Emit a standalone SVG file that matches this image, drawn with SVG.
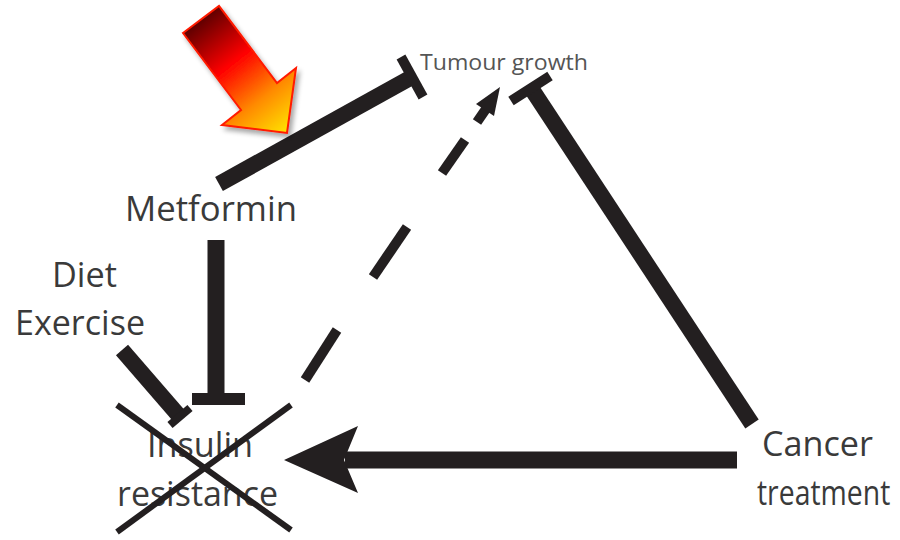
<svg xmlns="http://www.w3.org/2000/svg" width="900" height="540" viewBox="0 0 900 540">
  <defs>
    <linearGradient id="arrowGrad" gradientUnits="userSpaceOnUse" x1="200" y1="18" x2="290" y2="132">
      <stop offset="0" stop-color="#5a0000"/>
      <stop offset="0.38" stop-color="#ff0000"/>
      <stop offset="0.7" stop-color="#ff8a00"/>
      <stop offset="1" stop-color="#ffe600"/>
    </linearGradient>
    <filter id="shadow" x="-20%" y="-20%" width="150%" height="150%">
      <feGaussianBlur in="SourceAlpha" stdDeviation="2.5"/>
      <feOffset dx="3" dy="4" result="b"/>
      <feComponentTransfer><feFuncA type="linear" slope="0.35"/></feComponentTransfer>
      <feMerge><feMergeNode/><feMergeNode in="SourceGraphic"/></feMerge>
    </filter>
  </defs>
  <style>
    .lbl { font-family: "Open Sans", "Liberation Sans", sans-serif; fill: #3a3a3a; }
    .big { font-size: 34px; }
    .small { font-size: 21px; fill: #555555; }
    .bar { stroke: #231f20; fill: none; stroke-linecap: butt; }
    .thick { stroke-width: 16; }
    .dash { stroke-width: 10; }
    .head { fill: #231f20; }
    .cross { stroke: #231f20; stroke-width: 6; fill: none; }
  </style>
  <rect width="900" height="540" fill="#ffffff"/>

  <g id="connectors">
    <!-- Metformin inhibits Tumour growth -->
    <line class="bar thick" x1="219" y1="184" x2="412" y2="77"/>
    <line class="bar" stroke-width="10" x1="401" y1="57" x2="423" y2="97"/>
    <!-- Cancer treatment inhibits Tumour growth -->
    <line class="bar thick" x1="752" y1="424" x2="531" y2="88"/>
    <line class="bar" stroke-width="10" x1="511" y1="101" x2="550" y2="76"/>
    <!-- Insulin resistance promotes Tumour growth (dashed) -->
    <g id="dashed">
      <line class="bar dash" x1="305" y1="380" x2="337" y2="330"/>
      <line class="bar dash" x1="373" y1="277" x2="407" y2="227"/>
      <line class="bar dash" x1="442" y1="173" x2="465" y2="140"/>
      <line class="bar dash" x1="477" y1="122" x2="488" y2="106"/>
      <polygon class="head" points="500,87 494,116 476,104"/>
    </g>
    <!-- Metformin inhibits Insulin resistance -->
    <line class="bar" stroke-width="17" x1="216" y1="240" x2="216" y2="399"/>
    <line class="bar" stroke-width="12" x1="192" y1="399" x2="245" y2="399"/>
    <!-- Diet Exercise inhibits Insulin resistance -->
    <line class="bar thick" x1="122" y1="350" x2="180" y2="417"/>
    <line class="bar" stroke-width="8" x1="170" y1="425" x2="190" y2="408"/>
    <!-- Cancer treatment promotes Insulin resistance -->
    <line class="bar" stroke-width="17" x1="737" y1="460" x2="345" y2="460"/>
    <polygon class="head" points="284,460 358,426 344,460 358,493"/>
  </g>

  <g id="red-arrow" filter="url(#shadow)">
    <polygon points="183,33 219,6 277,83 296,68 287,133 222,125 241,110" fill="url(#arrowGrad)" stroke="#ff1a00" stroke-width="2" stroke-linejoin="miter"/>
  </g>

  <g id="tumour-growth">
    <text class="lbl small" x="420" y="70" textLength="168" lengthAdjust="spacingAndGlyphs">Tumour growth</text>
  </g>

  <g id="metformin">
    <text class="lbl big" x="125" y="221" textLength="172" lengthAdjust="spacingAndGlyphs">Metformin</text>
  </g>

  <g id="diet-exercise">
    <text class="lbl big" x="52" y="287" textLength="65" lengthAdjust="spacingAndGlyphs">Diet</text>
    <text class="lbl big" x="15" y="335" textLength="130" lengthAdjust="spacingAndGlyphs">Exercise</text>
  </g>

  <g id="insulin-resistance">
    <text class="lbl big" x="147" y="457" textLength="106" lengthAdjust="spacingAndGlyphs">Insulin</text>
    <text class="lbl big" x="117" y="506" textLength="161" lengthAdjust="spacingAndGlyphs">resistance</text>
    <line class="cross" x1="117" y1="405" x2="291" y2="530"/>
    <line class="cross" x1="117" y1="532" x2="291" y2="405"/>
  </g>

  <g id="cancer-treatment">
    <text class="lbl big" x="762" y="456" textLength="111" lengthAdjust="spacingAndGlyphs">Cancer</text>
    <text class="lbl big" x="0" y="0" transform="translate(757,505) scale(0.835,1)">treatment</text>
  </g>
</svg>
